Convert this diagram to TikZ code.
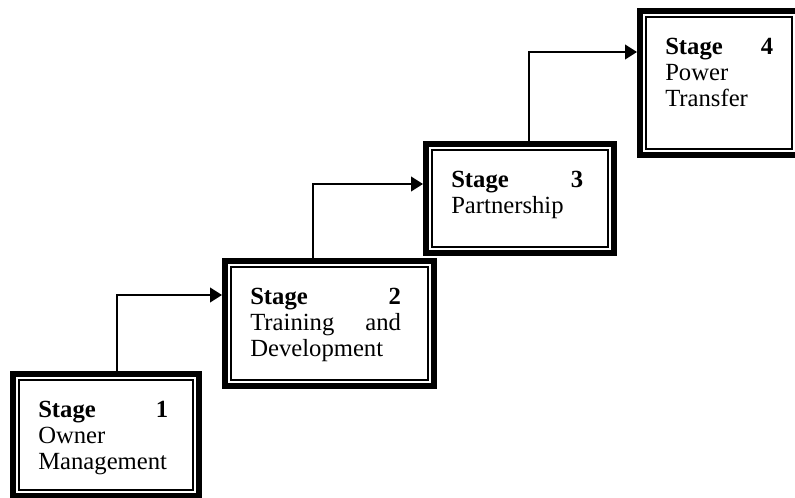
\documentclass[tikz,border=0pt]{standalone}
\usepackage{fontspec}
\setmainfont{Liberation Serif}
\usetikzlibrary{arrows.meta}
\newcommand\stagefont{\fontsize{18.5}{19.5}\selectfont}
\tikzset{
  stagebox/.style={rectangle, draw, line width=4.5pt, inner sep=0pt, fill=white},
  innerline/.style={line width=1.1pt},
  stagetext/.style={inner sep=0pt, text width=#1, align=justify, anchor=north west, font=\stagefont},
  flow/.style={line width=1.5pt, -{Triangle[length=9pt, width=11pt]}}
}

\begin{document}
\begin{tikzpicture}[x=0.75pt, y=-0.75pt]
  \useasboundingbox (0,0) rectangle (795,498);

  % Helper macro: one stage box with its thin inner frame and its text
  \def\stage#1#2#3#4#5#6{%
    % #1 = name, #2 = centre, #3 = width, #4 = height, #5 = text width, #6 = text
    \node[stagebox, minimum width=#3, minimum height=#4] (#1) at #2 {};
    \draw[innerline] ([shift={(9,9)}]#1.north west) rectangle ([shift={(-9,-9)}]#1.south east);
    \node[stagetext=#5] (#1t) at ([shift={(28,30)}]#1.north west) {#6};
  }

  % The four stages, climbing to the right
  \stage{s1}{(106,435)}{139.5pt}{91.5pt}{97.5pt}{\textbf{Stage}\hfill\textbf{1}\\Owner\\Management}
  \stage{s2}{(329.5,323.5)}{156.75pt}{93.75pt}{113pt}{\textbf{Stage}\hfill\textbf{2}\\Training\hfill and\\Development}
  \stage{s3}{(520,198.5)}{141pt}{81.75pt}{99pt}{\textbf{Stage}\hfill\textbf{3}\\Partnership}
  \stage{s4}{(719,83)}{118.5pt}{108pt}{81pt}{\textbf{Stage}\hfill\textbf{4}\\Power\\Transfer}

  % Steps between the stages
  \draw[flow] ([shift={(11,0)}]s1.north) |- ([shift={(0,37)}]s2.north west);
  \draw[flow] ([shift={(-16.5,0)}]s2.north) |- ([shift={(0,43)}]s3.north west);
  \draw[flow] ([shift={(9,0)}]s3.north) |- ([shift={(0,44)}]s4.north west);

\end{tikzpicture}
\end{document}
